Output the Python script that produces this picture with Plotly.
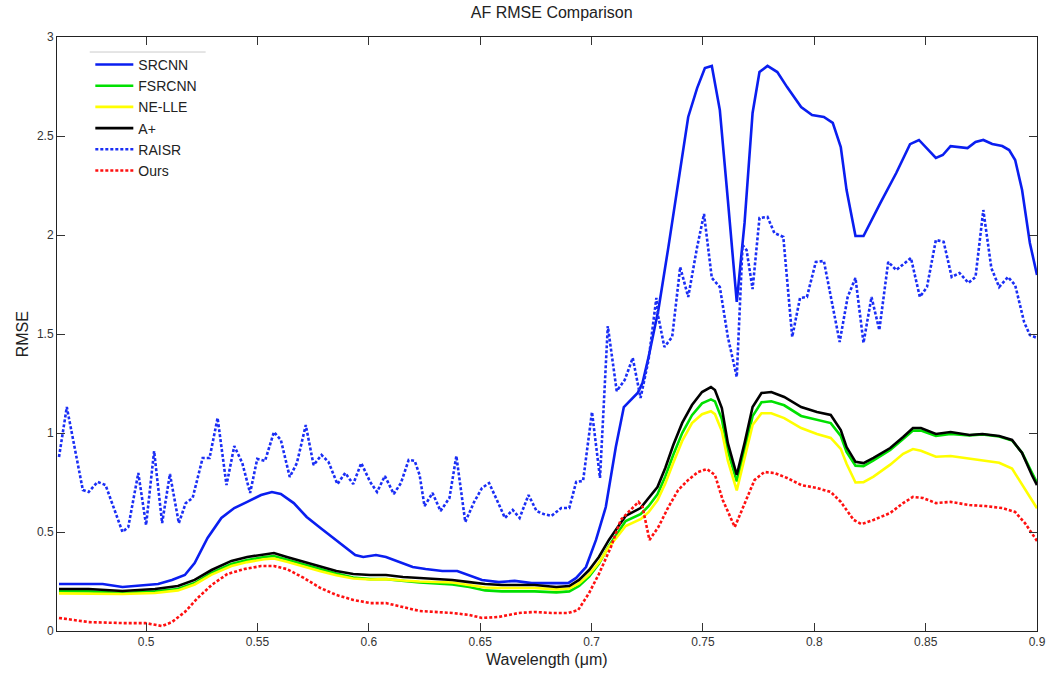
import plotly.graph_objects as go

# ---------------- data ----------------
wl_srcnn = [0.4609, 0.4685, 0.4805, 0.4894, 0.4965, 0.5054, 0.5116, 0.5174, 0.5218, 0.5276,
            0.5338, 0.5396, 0.5454, 0.5516, 0.5565, 0.5605, 0.5663, 0.5721, 0.5783, 0.5854,
            0.5899, 0.5939, 0.5975, 0.6032, 0.6077, 0.6139, 0.6197, 0.6255, 0.6330, 0.6397,
            0.6451, 0.6508, 0.6584, 0.6655, 0.6731, 0.6820, 0.6895, 0.6931, 0.6975, 0.7020,
            0.7064, 0.7109, 0.7145, 0.7207, 0.7229, 0.7256, 0.7300, 0.7345, 0.7398, 0.7434,
            0.7474, 0.7509, 0.7540, 0.7576, 0.7612, 0.7652, 0.7687, 0.7723, 0.7754, 0.7790,
            0.7834, 0.7878, 0.7941, 0.7990, 0.8043, 0.8083, 0.8119, 0.8145, 0.8185, 0.8221,
            0.8297, 0.8368, 0.8430, 0.8470, 0.8546, 0.8577, 0.8612, 0.8688, 0.8724, 0.8759,
            0.8799, 0.8844, 0.8875, 0.8902, 0.8933, 0.8968, 0.9000]
srcnn = [0.237, 0.237, 0.237, 0.222, 0.227, 0.237, 0.258, 0.283, 0.343, 0.470,
         0.571, 0.621, 0.652, 0.687, 0.702, 0.692, 0.646, 0.576, 0.520, 0.460,
         0.419, 0.384, 0.374, 0.384, 0.374, 0.348, 0.323, 0.313, 0.303, 0.303,
         0.283, 0.258, 0.247, 0.253, 0.242, 0.242, 0.242, 0.268, 0.323, 0.460,
         0.626, 0.929, 1.131, 1.202, 1.253, 1.384, 1.621, 1.939, 2.343, 2.596,
         2.742, 2.843, 2.854, 2.631, 2.177, 1.662, 2.061, 2.616, 2.823, 2.854,
         2.823, 2.747, 2.646, 2.606, 2.596, 2.566, 2.444, 2.227, 1.995, 1.995,
         2.162, 2.313, 2.459, 2.480, 2.389, 2.404, 2.449, 2.439, 2.470, 2.480,
         2.460, 2.449, 2.429, 2.379, 2.227, 1.960, 1.798]

wl_smooth = [0.4609, 0.4742, 0.4894, 0.5040, 0.5143, 0.5218, 0.5294, 0.5383, 0.5454, 0.5530,
             0.5574, 0.5632, 0.5708, 0.5783, 0.5854, 0.5930, 0.6006, 0.6077, 0.6153, 0.6228,
             0.6375, 0.6451, 0.6522, 0.6597, 0.6744, 0.6842, 0.6900, 0.6944, 0.6989, 0.7033,
             0.7078, 0.7118, 0.7153, 0.7220, 0.7256, 0.7296, 0.7331, 0.7367, 0.7407, 0.7451,
             0.7496, 0.7536, 0.7554, 0.7585, 0.7612, 0.7652, 0.7687, 0.7723, 0.7763, 0.7807,
             0.7865, 0.7941, 0.8012, 0.8074, 0.8119, 0.8145, 0.8185, 0.8221, 0.8266, 0.8341,
             0.8399, 0.8443, 0.8479, 0.8546, 0.8612, 0.8697, 0.8755, 0.8830, 0.8888, 0.8933,
             0.8977, 0.9000]
aplus = [0.212, 0.212, 0.202, 0.212, 0.227, 0.258, 0.308, 0.354, 0.374, 0.389,
         0.394, 0.374, 0.349, 0.323, 0.303, 0.288, 0.283, 0.283, 0.273, 0.268,
         0.258, 0.247, 0.237, 0.232, 0.232, 0.222, 0.227, 0.258, 0.308, 0.374,
         0.460, 0.525, 0.581, 0.621, 0.672, 0.727, 0.823, 0.939, 1.051, 1.141,
         1.207, 1.232, 1.217, 1.126, 0.949, 0.788, 0.949, 1.131, 1.202, 1.207,
         1.182, 1.131, 1.106, 1.091, 1.015, 0.929, 0.854, 0.848, 0.874, 0.924,
         0.980, 1.025, 1.025, 0.995, 1.005, 0.990, 0.995, 0.985, 0.965, 0.899,
         0.788, 0.737]
fsrcnn = [0.200, 0.200, 0.192, 0.200, 0.212, 0.242, 0.293, 0.338, 0.358, 0.374,
          0.379, 0.360, 0.335, 0.310, 0.290, 0.270, 0.262, 0.262, 0.252, 0.245,
          0.235, 0.222, 0.205, 0.200, 0.200, 0.195, 0.200, 0.228, 0.275, 0.340,
          0.430, 0.500, 0.555, 0.590, 0.630, 0.690, 0.780, 0.890, 1.000, 1.090,
          1.150, 1.170, 1.160, 1.070, 0.910, 0.755, 0.910, 1.085, 1.155, 1.160,
          1.140, 1.086, 1.065, 1.050, 0.985, 0.905, 0.835, 0.833, 0.862, 0.915,
          0.970, 1.012, 1.012, 0.985, 0.995, 0.988, 0.993, 0.982, 0.962, 0.900,
          0.800, 0.750]
nelle = [0.190, 0.190, 0.187, 0.192, 0.205, 0.235, 0.285, 0.328, 0.348, 0.362,
         0.366, 0.350, 0.325, 0.302, 0.282, 0.265, 0.260, 0.262, 0.255, 0.250,
         0.245, 0.232, 0.220, 0.217, 0.217, 0.210, 0.215, 0.240, 0.285, 0.345,
         0.425, 0.480, 0.530, 0.565, 0.600, 0.660, 0.745, 0.850, 0.960, 1.050,
         1.095, 1.110, 1.095, 1.010, 0.860, 0.710, 0.870, 1.040, 1.100, 1.100,
         1.075, 1.025, 0.995, 0.975, 0.920, 0.845, 0.750, 0.752, 0.780, 0.840,
         0.895, 0.919, 0.910, 0.880, 0.884, 0.870, 0.860, 0.850, 0.820, 0.740,
         0.660, 0.620]

wl_raisr = [0.4609, 0.4644, 0.4716, 0.4742, 0.4782, 0.4818, 0.4894, 0.4920, 0.4965, 0.5000,
            0.5036, 0.5072, 0.5107, 0.5147, 0.5178, 0.5209, 0.5254, 0.5285, 0.5321, 0.5361,
            0.5396, 0.5432, 0.5467, 0.5499, 0.5534, 0.5574, 0.5605, 0.5645, 0.5677, 0.5717,
            0.5752, 0.5788, 0.5819, 0.5859, 0.5894, 0.5930, 0.5966, 0.6006, 0.6037, 0.6072,
            0.6112, 0.6144, 0.6179, 0.6206, 0.6228, 0.6250, 0.6286, 0.6322, 0.6362, 0.6393,
            0.6433, 0.6473, 0.6508, 0.6540, 0.6575, 0.6611, 0.6646, 0.6677, 0.6717, 0.6753,
            0.6784, 0.6820, 0.6864, 0.6900, 0.6931, 0.6962, 0.7002, 0.7038, 0.7073, 0.7113,
            0.7149, 0.7185, 0.7220, 0.7256, 0.7291, 0.7300, 0.7327, 0.7362, 0.7398, 0.7434,
            0.7474, 0.7505, 0.7540, 0.7576, 0.7612, 0.7652, 0.7678, 0.7696, 0.7723, 0.7754,
            0.7790, 0.7821, 0.7861, 0.7901, 0.7936, 0.7967, 0.8007, 0.8043, 0.8114, 0.8150,
            0.8185, 0.8221, 0.8257, 0.8292, 0.8332, 0.8368, 0.8434, 0.8474, 0.8506, 0.8546,
            0.8581, 0.8617, 0.8652, 0.8692, 0.8724, 0.8759, 0.8795, 0.8830, 0.8870, 0.8902,
            0.8942, 0.8968, 0.9000]
raisr = [0.879, 1.131, 0.712, 0.702, 0.753, 0.737, 0.500, 0.525, 0.798, 0.535,
         0.909, 0.545, 0.793, 0.545, 0.646, 0.672, 0.874, 0.874, 1.076, 0.737,
         0.934, 0.848, 0.697, 0.869, 0.859, 1.005, 0.965, 0.778, 0.848, 1.040,
         0.838, 0.889, 0.854, 0.742, 0.798, 0.742, 0.848, 0.753, 0.702, 0.783,
         0.692, 0.747, 0.864, 0.859, 0.788, 0.631, 0.697, 0.606, 0.672, 0.884,
         0.551, 0.652, 0.722, 0.747, 0.662, 0.571, 0.611, 0.571, 0.687, 0.606,
         0.591, 0.581, 0.621, 0.621, 0.753, 0.758, 1.106, 0.773, 1.540, 1.212,
         1.268, 1.379, 1.177, 1.369, 1.682, 1.586, 1.434, 1.485, 1.838, 1.687,
         1.939, 2.106, 1.783, 1.737, 1.485, 1.283, 1.949, 1.924, 1.727, 2.086,
         2.091, 2.010, 1.990, 1.485, 1.682, 1.687, 1.864, 1.869, 1.460, 1.687,
         1.783, 1.455, 1.687, 1.520, 1.864, 1.823, 1.884, 1.687, 1.737, 1.975,
         1.965, 1.788, 1.808, 1.758, 1.788, 2.126, 1.833, 1.737, 1.788, 1.747,
         1.561, 1.495, 1.480]

wl_ours = [0.4609, 0.4742, 0.4894, 0.4997, 0.5072, 0.5116, 0.5174, 0.5232, 0.5294, 0.5365,
           0.5441, 0.5516, 0.5574, 0.5632, 0.5708, 0.5783, 0.5854, 0.5930, 0.6006, 0.6077,
           0.6153, 0.6228, 0.6375, 0.6451, 0.6508, 0.6584, 0.6673, 0.6744, 0.6820, 0.6895,
           0.6940, 0.6989, 0.7033, 0.7087, 0.7131, 0.7167, 0.7211, 0.7229, 0.7260, 0.7300,
           0.7345, 0.7389, 0.7434, 0.7478, 0.7518, 0.7554, 0.7589, 0.7643, 0.7687, 0.7732,
           0.7776, 0.7821, 0.7878, 0.7941, 0.8012, 0.8074, 0.8119, 0.8177, 0.8212, 0.8266,
           0.8341, 0.8399, 0.8443, 0.8488, 0.8546, 0.8612, 0.8697, 0.8768, 0.8844, 0.8902,
           0.8946, 0.9000]
ours = [0.066, 0.045, 0.040, 0.040, 0.025, 0.045, 0.096, 0.167, 0.232, 0.288,
        0.313, 0.328, 0.328, 0.313, 0.268, 0.217, 0.182, 0.157, 0.141, 0.141,
        0.121, 0.101, 0.091, 0.081, 0.066, 0.071, 0.091, 0.096, 0.091, 0.091,
        0.106, 0.192, 0.288, 0.424, 0.561, 0.601, 0.652, 0.626, 0.460, 0.525,
        0.626, 0.712, 0.763, 0.803, 0.818, 0.788, 0.662, 0.525, 0.646, 0.763,
        0.803, 0.798, 0.773, 0.737, 0.722, 0.702, 0.652, 0.561, 0.540, 0.561,
        0.596, 0.646, 0.677, 0.672, 0.646, 0.652, 0.636, 0.631, 0.621, 0.601,
        0.545, 0.455]

x_ticks = [0.5, 0.55, 0.6, 0.65, 0.7, 0.75, 0.8, 0.85, 0.9]
y_ticks = [0, 0.5, 1, 1.5, 2, 2.5, 3]

# ---------------- figure ----------------
series = [
    ("SRCNN", wl_srcnn, srcnn, "#0a1ef0", "solid"),
    ("FSRCNN", wl_smooth, fsrcnn, "#00e000", "solid"),
    ("NE-LLE", wl_smooth, nelle, "#ffff00", "solid"),
    ("A+", wl_smooth, aplus, "#000000", "solid"),
    ("RAISR", wl_raisr, raisr, "#1a2ef5", "3px,2px"),
    ("Ours", wl_ours, ours, "#ff1010", "3px,2px"),
]

fig = go.Figure()
for name, xs, ys, color, dash in series:
    fig.add_trace(go.Scatter(x=xs, y=ys, mode="lines", name=name,
                             line=dict(color=color, width=2.6, dash=dash)))

axis_common = dict(showline=True, linecolor="#222222", linewidth=1, mirror="ticks",
                   ticks="inside", ticklen=8, tickcolor="#333333", showgrid=False,
                   zeroline=False, tickfont=dict(family="Liberation Sans, Arial", size=12, color="#333333"))

fig.update_layout(
    width=1056, height=675,
    margin=dict(l=57, r=10, t=37, b=44),
    paper_bgcolor="white", plot_bgcolor="white",
    font=dict(family="Liberation Sans, Arial", color="#222222"),
    title=dict(text="AF RMSE Comparison", x=0.5225, xanchor="center", y=0.982, yanchor="middle",
               yref="container", font=dict(size=16, color="#222222")),
    xaxis=dict(range=[0.46, 0.9], tickvals=x_ticks, ticktext=[str(v) for v in x_ticks], **axis_common),
    yaxis=dict(range=[0, 3], tickvals=y_ticks, ticktext=["0", "0.5", "1", "1.5", "2", "2.5", "3"], **axis_common),
    legend=dict(x=0.034, y=0.98, xanchor="left", yanchor="top", bgcolor="rgba(255,255,255,0)",
                borderwidth=0, font=dict(size=14, color="#222222"), tracegroupgap=0,
                itemwidth=38),
    showlegend=True,
)

fig.add_annotation(text="Wavelength (\u03bcm)", xref="paper", yref="paper", x=0.5, y=-0.0488,
                   yanchor="middle", showarrow=False, font=dict(size=16, color="#222222"))
fig.add_annotation(text="RMSE", xref="paper", yref="paper", x=-0.0354, y=0.5, textangle=-90,
                   xanchor="center", showarrow=False, font=dict(size=16, color="#222222"))
fig.add_shape(type="line", xref="paper", yref="paper", x0=0.0334, x1=0.1517, y0=0.9747, y1=0.9747,
              line=dict(color="#cccccc", width=1))

fig.write_html("out.html")
